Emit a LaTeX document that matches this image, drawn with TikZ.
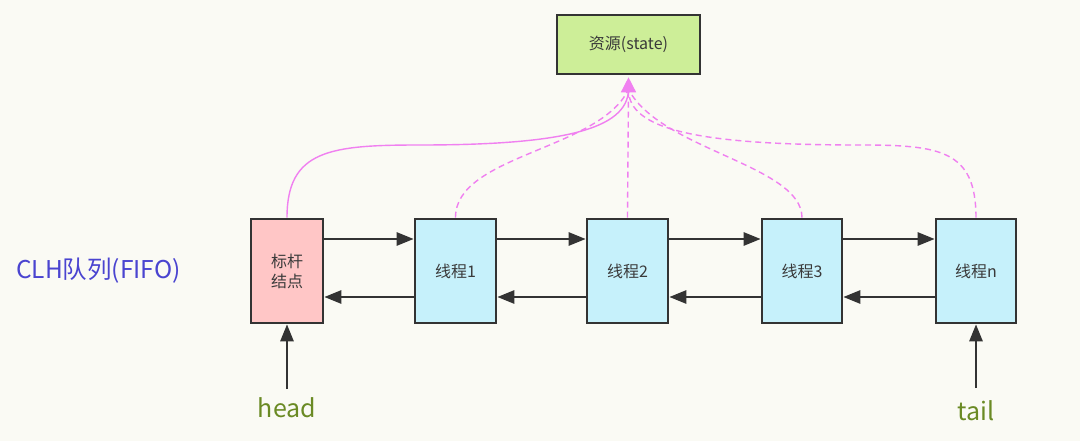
\documentclass[tikz,border=0pt]{standalone}
\usepackage{fontspec}
\setmainfont{Noto Sans CJK SC}
\usetikzlibrary{arrows.meta,calc}
\definecolor{bgc}{HTML}{FAFAF4}
\definecolor{edge}{HTML}{333333}
\definecolor{txt}{HTML}{3A3A3A}
\definecolor{pinkl}{HTML}{F080F0}
\definecolor{greenf}{HTML}{CDEE98}
\definecolor{redf}{HTML}{FFC6C6}
\definecolor{cyanf}{HTML}{C6F1FB}
\definecolor{olive}{HTML}{6A8A24}
\definecolor{clh}{HTML}{4A44D0}
\tikzset{
  box/.style={draw=edge, line width=2.6pt, text=txt, inner sep=0pt, align=center,
    font=\fontsize{16}{20}\selectfont},
  thread/.style={box, fill=cyanf, minimum width=81pt, minimum height=104pt},
  link/.style={draw=edge, line width=2.6pt, -{Triangle[length=17pt,width=13pt]}},
  res/.style={draw=pinkl, line width=1.4pt},
  resd/.style={res, dash pattern=on 6pt off 4pt},
  lbl/.style={text=olive, font=\fontsize{25}{28}\selectfont, inner sep=0pt}
}
\begin{document}
\begin{tikzpicture}[x=1pt,y=-1pt]
\fill[bgc] (0,0) rectangle (1080,441);
\useasboundingbox (0,0) rectangle (1080,441);

\node[box, fill=greenf, minimum width=143pt, minimum height=59pt] (res) at (628.5,44.5) {资源(state)};
\node[box, fill=redf, minimum width=72pt, minimum height=104pt] (b0) at (287,271) {标杆\\结点};
\node[thread] (t1) at (455.5,271) {线程1};
\node[thread] (t2) at (627.5,271) {线程2};
\node[thread, minimum width=80pt] (t3) at (802,271) {线程3};
\node[thread, minimum width=80pt] (tn) at (976,271) {线程n};

\node[anchor=west, text=clh, inner sep=0pt, font=\fontsize{24.5}{28}\selectfont] (clhl) at (16,271) {CLH队列(FIFO)};

% forward / backward links
\foreach \a/\b in {b0/t1,t1/t2,t2/t3,t3/tn}{
  \draw[link] ($(\a.east)+(0,-32)$) -- ($(\b.west)+(0,-32)$);
  \draw[link] ($(\b.west)+(0,26)$) -- ($(\a.east)+(0,26)$);
}

% head / tail
\node[lbl] (head) at (287,408) {head};
\node[lbl] (tail) at (976,411) {tail};
\coordinate (hs) at (287,389);
\coordinate (ts) at (976,388);
\draw[link] (hs) -- (b0.south);
\draw[link] (ts) -- (tn.south);

% pink curves to resource
\coordinate (tip) at ($(res.south)+(0,2)$);
\coordinate (join) at ($(res.south)+(0,14)$);
\draw[res] (b0.north) .. controls (287,150) and (330,145) .. (420,145)
   .. controls (560,145) and (628,130) .. (join);
\draw[resd] (t1.north) .. controls (455,155) and (600,150) .. (join);
\draw[resd] (t3.north) .. controls (802,165) and (660,150) .. (join);
\draw[resd] (tn.north) .. controls (976,150) and (940,145) .. (860,145)
   .. controls (700,145) and (628,130) .. (join);
\draw[resd] (t2.north) -- (join);
\draw[res, -{Triangle[length=15pt,width=15pt]}] (join) -- (tip);
\end{tikzpicture}
\end{document}
